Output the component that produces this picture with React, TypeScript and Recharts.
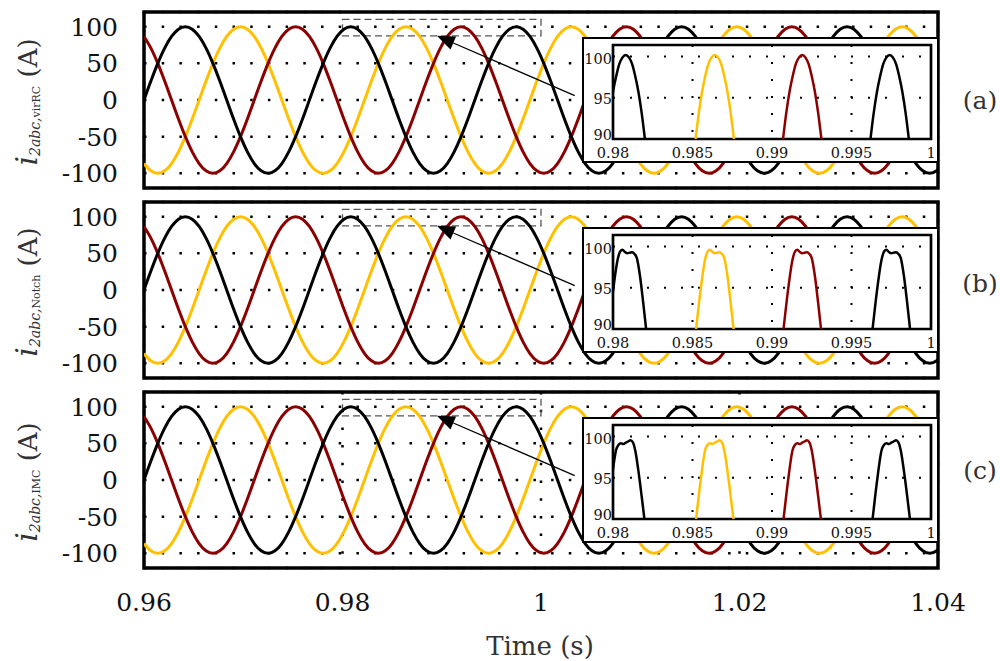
import React from "react";
import { LineChart, Line, XAxis, YAxis, CartesianGrid, ReferenceArea, ReferenceLine } from "recharts";

// time axis (s), 15 deg steps of the 60 Hz waveform
const time = [
  0.96, 0.960694, 0.961389, 0.962083, 0.962778, 0.963472, 0.964167, 0.964861, 0.965556, 0.96625, 0.966944, 0.967639,
  0.968333, 0.969028, 0.969722, 0.970417, 0.971111, 0.971806, 0.9725, 0.973194, 0.973889, 0.974583, 0.975278, 0.975972,
  0.976667, 0.977361, 0.978056, 0.97875, 0.979444, 0.980139, 0.980833, 0.981528, 0.982222, 0.982917, 0.983611, 0.984306,
  0.985, 0.985694, 0.986389, 0.987083, 0.987778, 0.988472, 0.989167, 0.989861, 0.990556, 0.99125, 0.991944, 0.992639,
  0.993333, 0.994028, 0.994722, 0.995417, 0.996111, 0.996806, 0.9975, 0.998194, 0.998889, 0.999583, 1.000278, 1.000972,
  1.001667, 1.002361, 1.003056, 1.00375, 1.004444, 1.005139, 1.005833, 1.006528, 1.007222, 1.007917, 1.008611, 1.009306,
  1.01, 1.010694, 1.011389, 1.012083, 1.012778, 1.013472, 1.014167, 1.014861, 1.015556, 1.01625, 1.016944, 1.017639,
  1.018333, 1.019028, 1.019722, 1.020417, 1.021111, 1.021806, 1.0225, 1.023194, 1.023889, 1.024583, 1.025278, 1.025972,
  1.026667, 1.027361, 1.028056, 1.02875, 1.029444, 1.030139, 1.030833, 1.031528, 1.032222, 1.032917, 1.033611, 1.034306,
  1.035, 1.035694, 1.036389, 1.037083, 1.037778, 1.038472, 1.039167, 1.039861, 1.040556,
];

// phase a (black)
const phaseA = [
  0, 25.9, 50, 70.7, 86.6, 96.6, 100, 96.6, 86.6, 70.7, 50, 25.9,
  0, -25.9, -50, -70.7, -86.6, -96.6, -100, -96.6, -86.6, -70.7, -50, -25.9,
  0, 25.9, 50, 70.7, 86.6, 96.6, 100, 96.6, 86.6, 70.7, 50, 25.9,
  0, -25.9, -50, -70.7, -86.6, -96.6, -100, -96.6, -86.6, -70.7, -50, -25.9,
  0, 25.9, 50, 70.7, 86.6, 96.6, 100, 96.6, 86.6, 70.7, 50, 25.9,
  0, -25.9, -50, -70.7, -86.6, -96.6, -100, -96.6, -86.6, -70.7, -50, -25.9,
  0, 25.9, 50, 70.7, 86.6, 96.6, 100, 96.6, 86.6, 70.7, 50, 25.9,
  0, -25.9, -50, -70.7, -86.6, -96.6, -100, -96.6, -86.6, -70.7, -50, -25.9,
  0, 25.9, 50, 70.7, 86.6, 96.6, 100, 96.6, 86.6, 70.7, 50, 25.9,
  0, -25.9, -50, -70.7, -86.6, -96.6, -100, -96.6, -86.6,
];

// phase b (yellow)
const phaseB = [
  -86.6, -96.6, -100, -96.6, -86.6, -70.7, -50, -25.9, 0, 25.9, 50, 70.7,
  86.6, 96.6, 100, 96.6, 86.6, 70.7, 50, 25.9, 0, -25.9, -50, -70.7,
  -86.6, -96.6, -100, -96.6, -86.6, -70.7, -50, -25.9, 0, 25.9, 50, 70.7,
  86.6, 96.6, 100, 96.6, 86.6, 70.7, 50, 25.9, 0, -25.9, -50, -70.7,
  -86.6, -96.6, -100, -96.6, -86.6, -70.7, -50, -25.9, 0, 25.9, 50, 70.7,
  86.6, 96.6, 100, 96.6, 86.6, 70.7, 50, 25.9, 0, -25.9, -50, -70.7,
  -86.6, -96.6, -100, -96.6, -86.6, -70.7, -50, -25.9, 0, 25.9, 50, 70.7,
  86.6, 96.6, 100, 96.6, 86.6, 70.7, 50, 25.9, 0, -25.9, -50, -70.7,
  -86.6, -96.6, -100, -96.6, -86.6, -70.7, -50, -25.9, 0, 25.9, 50, 70.7,
  86.6, 96.6, 100, 96.6, 86.6, 70.7, 50, 25.9, 0,
];

// phase c (dark red)
const phaseC = [
  86.6, 70.7, 50, 25.9, 0, -25.9, -50, -70.7, -86.6, -96.6, -100, -96.6,
  -86.6, -70.7, -50, -25.9, 0, 25.9, 50, 70.7, 86.6, 96.6, 100, 96.6,
  86.6, 70.7, 50, 25.9, 0, -25.9, -50, -70.7, -86.6, -96.6, -100, -96.6,
  -86.6, -70.7, -50, -25.9, 0, 25.9, 50, 70.7, 86.6, 96.6, 100, 96.6,
  86.6, 70.7, 50, 25.9, 0, -25.9, -50, -70.7, -86.6, -96.6, -100, -96.6,
  -86.6, -70.7, -50, -25.9, 0, 25.9, 50, 70.7, 86.6, 96.6, 100, 96.6,
  86.6, 70.7, 50, 25.9, 0, -25.9, -50, -70.7, -86.6, -96.6, -100, -96.6,
  -86.6, -70.7, -50, -25.9, 0, 25.9, 50, 70.7, 86.6, 96.6, 100, 96.6,
  86.6, 70.7, 50, 25.9, 0, -25.9, -50, -70.7, -86.6, -96.6, -100, -96.6,
  -86.6, -70.7, -50, -25.9, 0, 25.9, 50, 70.7, 86.6,
];

const xTicks = [0.96, 0.98, 1, 1.02, 1.04];
const yTicks = [-100, -50, 0, 50, 100];
const zoomXTicks = [0.98, 0.985, 0.99, 0.995, 1];
const zoomYTicks = [90, 95, 100];

// zoomed peaks, virRC
const tVir1 = [0.9794, 0.9796, 0.9798, 0.98, 0.9802, 0.9804, 0.9806, 0.9808, 0.981, 0.9812, 0.9814, 0.9816, 0.9818, 0.982, 0.9822];
const tVir2 = [0.985, 0.9852, 0.9854, 0.9856, 0.9858, 0.986, 0.9862, 0.9864, 0.9866, 0.9868, 0.987, 0.9872, 0.9874, 0.9876, 0.9878];
const tVir3 = [0.9905, 0.9907, 0.9909, 0.9911, 0.9913, 0.9915, 0.9917, 0.9919, 0.9921, 0.9923, 0.9925, 0.9927, 0.9929, 0.9931, 0.9933];
const tVir4 = [0.996, 0.9962, 0.9964, 0.9966, 0.9968, 0.997, 0.9972, 0.9974, 0.9976, 0.9978, 0.998, 0.9982, 0.9984, 0.9986, 0.9988];
const vVir = [86.6, 90.1, 93.2, 95.7, 97.6, 99.1, 99.9, 100.2, 99.9, 99.1, 97.6, 95.7, 93.2, 90.1, 86.6];

// zoomed peaks, Notch
const tNot1 = [0.9794, 0.9797, 0.98, 0.9803, 0.98045, 0.9806, 0.98075, 0.9809, 0.98105, 0.9812, 0.98135, 0.9815, 0.9817, 0.9819, 0.9821, 0.9824];
const tNot2 = [0.9849, 0.9852, 0.9855, 0.9858, 0.98595, 0.9861, 0.98625, 0.9864, 0.98655, 0.9867, 0.98685, 0.987, 0.9872, 0.9874, 0.9876, 0.9879];
const tNot3 = [0.9904, 0.9907, 0.991, 0.9913, 0.99145, 0.9916, 0.99175, 0.9919, 0.99205, 0.9922, 0.99235, 0.9925, 0.9927, 0.9929, 0.9931, 0.9934];
const tNot4 = [0.996, 0.9963, 0.9966, 0.9969, 0.99705, 0.9972, 0.99735, 0.9975, 0.99765, 0.9978, 0.99795, 0.9981, 0.9983, 0.9985, 0.9987, 0.999];
const vNotch = [85.0, 89.6, 94.6, 98.5, 99.4, 99.6, 99.35, 99.2, 99.25, 99.3, 99.1, 98.6, 96.4, 93.2, 89.7, 85.0];

// zoomed peaks, IMC
const tImc1 = [0.9793, 0.9796, 0.9799, 0.9802, 0.98035, 0.9805, 0.98065, 0.9808, 0.98095, 0.9811, 0.98125, 0.9814, 0.9816, 0.9818, 0.982, 0.9823];
const vImc = [85.0, 89.6, 94.5, 98.4, 99.0, 99.2, 99.1, 99.25, 99.4, 99.55, 99.3, 98.3, 95.8, 92.8, 89.6, 85.0];

const BLACK = "#000000";
const GOLD = "#FFC000";
const RED = "#8B0000";
const serif = "DejaVu Serif";

const rows = time.map((t, i) => ({ t, a: phaseA[i], b: phaseB[i], c: phaseC[i] }));

const panels = [
  {
    tag: "(a)", sub: "virRC", top: 12, tagY: 109,
    peaks: [
      { t: tVir1, v: vVir, color: BLACK },
      { t: tVir2, v: vVir, color: GOLD },
      { t: tVir3, v: vVir, color: RED },
      { t: tVir4, v: vVir, color: BLACK },
    ],
  },
  {
    tag: "(b)", sub: "Notch", top: 202, tagY: 292,
    peaks: [
      { t: tNot1, v: vNotch, color: BLACK },
      { t: tNot2, v: vNotch, color: GOLD },
      { t: tNot3, v: vNotch, color: RED },
      { t: tNot4, v: vNotch, color: BLACK },
    ],
  },
  {
    tag: "(c)", sub: "IMC", top: 392, tagY: 479,
    peaks: [
      { t: tImc1, v: vImc, color: BLACK },
      { t: tNot2, v: vImc, color: GOLD },
      { t: tNot3, v: vImc, color: RED },
      { t: tNot4, v: vImc, color: BLACK },
    ],
  },
];

function Arrow(p: any) {
  const { x1, y1, x2, y2 } = p;
  const dx = x2 - x1;
  const dy = y2 - y1;
  const len = Math.hypot(dx, dy) || 1;
  const ux = dx / len;
  const uy = dy / len;
  const bx = x2 - ux * 18;
  const by = y2 - uy * 18;
  const pts = `${x2},${y2} ${bx - uy * 7},${by + ux * 7} ${bx + uy * 7},${by - ux * 7}`;
  return (
    <g>
      <line x1={x1} y1={y1} x2={bx} y2={by} stroke="#000" strokeWidth={1.3} />
      <polygon points={pts} fill="#000" />
    </g>
  );
}

// inset y labels sit a little off their grid lines, the bottom one is lifted
function ZoomYTick(props: any) {
  const { x, y, payload } = props;
  const shift = payload.value === 90 ? -4 : payload.value === 100 ? 2 : 1.5;
  return (
    <text x={x} y={y + shift} dy="0.355em" textAnchor="end" fontSize={14.5} fontFamily={serif} fill="#111">
      {payload.value}
    </text>
  );
}

function MainPanel({ top, last }: { top: number; last: boolean }) {
  const tickStyle = { fontSize: 25, fontFamily: serif, fill: "#111" };
  return (
    <div style={{ position: "absolute", left: 0, top: top - 10 }}>
      <LineChart
        width={1000}
        height={last ? 236 : 196}
        data={rows}
        margin={{ top: 10, right: 62, bottom: last ? 0 : 10, left: 0 }}
      >
        <CartesianGrid stroke="#000" strokeWidth={2.5} strokeDasharray="2.5 15.2" />
        <XAxis
          dataKey="t"
          type="number"
          domain={[0.96, 1.04]}
          ticks={xTicks}
          allowDataOverflow
          interval={0}
          height={last ? 50 : 0}
          tick={last ? tickStyle : false}
          tickLine={false}
          axisLine={false}
          tickSize={0}
          tickMargin={25}
        />
        <YAxis
          type="number"
          domain={[-120, 120]}
          ticks={yTicks}
          allowDataOverflow
          interval={0}
          width={144}
          tick={tickStyle}
          tickLine={false}
          axisLine={false}
          tickSize={0}
          tickMargin={26}
        />
        <Line dataKey="b" type="monotone" stroke={GOLD} strokeWidth={3} dot={false} isAnimationActive={false} />
        <Line dataKey="c" type="monotone" stroke={RED} strokeWidth={3} dot={false} isAnimationActive={false} />
        <Line dataKey="a" type="monotone" stroke={BLACK} strokeWidth={3} dot={false} isAnimationActive={false} />
        <ReferenceArea x1={0.98} x2={1} y1={87.5} y2={110} fill="none" stroke="#555" strokeWidth={1.3} strokeDasharray="7 4" ifOverflow="visible" />
        <ReferenceLine segment={[{ x: 1.0034, y: 6 }, { x: 0.9895, y: 87.5 }]} shape={Arrow} ifOverflow="visible" />
        <ReferenceArea x1={0.96} x2={1.04} y1={-120} y2={120} fill="none" stroke="#000" strokeWidth={3.5} />
      </LineChart>
    </div>
  );
}

function Inset({ top, peaks }: { top: number; peaks: { t: number[]; v: number[]; color: string }[] }) {
  const tickStyle = { fontSize: 14.5, fontFamily: serif, fill: "#111" };
  return (
    <div
      style={{
        position: "absolute",
        left: 582,
        top: top + 25,
        width: 357,
        height: 126,
        boxSizing: "border-box",
        border: "2px solid #000",
        background: "#fff",
      }}
    >
      <LineChart width={353} height={122} margin={{ top: 6, right: 6, bottom: 0, left: 0 }}>
        <CartesianGrid stroke="#000" strokeWidth={2} strokeDasharray="2 15" />
        <XAxis
          dataKey="t"
          type="number"
          domain={[0.98, 1]}
          ticks={zoomXTicks}
          allowDataOverflow
          interval={0}
          height={22}
          tick={tickStyle}
          tickLine={false}
          axisLine={false}
          tickSize={0}
          tickMargin={9}
        />
        <YAxis
          type="number"
          domain={[90, 101.4]}
          ticks={zoomYTicks}
          allowDataOverflow
          interval={0}
          width={29}
          tick={<ZoomYTick />}
          tickLine={false}
          axisLine={false}
          tickSize={0}
          tickMargin={1}
        />
        {peaks.map((p, i) => (
          <Line
            key={i}
            data={p.t.map((t, j) => ({ t, v: p.v[j] }))}
            dataKey="v"
            type="monotone"
            stroke={p.color}
            strokeWidth={2.5}
            dot={false}
            isAnimationActive={false}
          />
        ))}
        <ReferenceArea x1={0.98} x2={1} y1={90} y2={101.4} fill="none" stroke="#000" strokeWidth={2.7} />
      </LineChart>
    </div>
  );
}

export default function App() {
  return (
    <div style={{ position: "absolute", left: 0, top: 0, width: 1000, height: 661, background: "#fff", overflow: "hidden" }}>
      {panels.map((p, i) => (
        <MainPanel key={p.tag} top={p.top} last={i === panels.length - 1} />
      ))}
      {panels.map((p) => (
        <Inset key={p.tag + "z"} top={p.top} peaks={p.peaks} />
      ))}
      <svg width={1000} height={661} style={{ position: "absolute", left: 0, top: 0, pointerEvents: "none" }}>
        {panels.map((p) => (
          <g key={p.tag + "t"} fontFamily={serif} fill="#333">
            <text transform={`translate(37, ${p.top + 90}) rotate(-90)`} textAnchor="middle">
              <tspan fontStyle="italic" fontSize={30}>i</tspan>
              <tspan fontStyle="italic" fontSize={14} dy={3}>2abc,</tspan>
              <tspan fontSize={11}>{p.sub}</tspan>
              <tspan fontSize={26} dy={-3}> (A)</tspan>
            </text>
            <text x={980} y={p.tagY} textAnchor="middle" fontSize={25}>{p.tag}</text>
          </g>
        ))}
        <text x={540} y={655} textAnchor="middle" fontSize={26} fontFamily={serif} fill="#333">Time (s)</text>
      </svg>
    </div>
  );
}
